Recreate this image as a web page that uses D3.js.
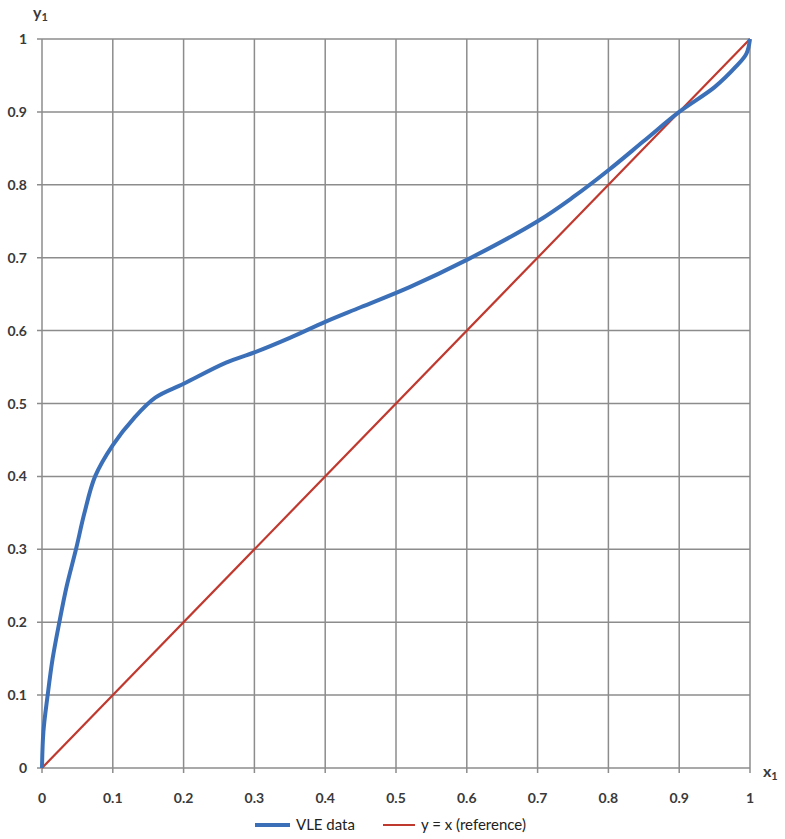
<!DOCTYPE html>
<html>
<head>
<meta charset="utf-8">
<script src="https://cdn.jsdelivr.net/npm/d3@7"></script>
<style>
  body { margin: 0; background: #fff; }
  text { font-family: Lato, "Open Sans", sans-serif; }
</style>
</head>
<body>
<div id="chart"></div>
<script>
// VLE data
const vleX = [0, 0.002, 0.008, 0.015, 0.0245, 0.035, 0.048, 0.06, 0.075, 0.1, 0.13, 0.16, 0.2, 0.26, 0.3, 0.35, 0.4, 0.45, 0.52, 0.6, 0.7, 0.75, 0.8, 0.85, 0.9, 0.95, 0.98, 0.995, 1];
const vleY = [0, 0.05, 0.1, 0.15, 0.2, 0.25, 0.3, 0.35, 0.4, 0.443, 0.48, 0.508, 0.527, 0.556, 0.57, 0.59, 0.612, 0.632, 0.66, 0.697, 0.75, 0.783, 0.82, 0.86, 0.9, 0.934, 0.962, 0.98, 1];
const refX = [0, 1];
const refY = [0, 1];
const ticks = [0, 0.1, 0.2, 0.3, 0.4, 0.5, 0.6, 0.7, 0.8, 0.9, 1];
const legendNames = ["VLE data", "y = x (reference)"];

const width = 785, height = 839;
const plot = {left: 42, right: 750, top: 39, bottom: 768};

const svg = d3.select("#chart").append("svg")
    .attr("width", width)
    .attr("height", height);

const x = d3.scaleLinear().domain([0, 1]).range([plot.left, plot.right]);
const y = d3.scaleLinear().domain([0, 1]).range([plot.bottom, plot.top]);

//grid
svg.append("g").selectAll("line").data(ticks).join("line")
    .attr("x1", d => x(d)).attr("x2", d => x(d))
    .attr("y1", plot.top).attr("y2", plot.bottom + 5)
    .attr("stroke", "#8c8c8c").attr("stroke-width", 1.5);
svg.append("g").selectAll("line").data(ticks).join("line")
    .attr("x1", plot.left - 5).attr("x2", plot.right)
    .attr("y1", d => y(d)).attr("y2", d => y(d))
    .attr("stroke", "#8c8c8c").attr("stroke-width", 1.5);

//tick labels
const fmt = d => d === 0 ? "0" : d === 1 ? "1" : d3.format(".1f")(d);
svg.append("g").selectAll("text").data(ticks).join("text")
    .attr("x", d => x(d)).attr("y", plot.bottom + 35)
    .attr("text-anchor", "middle")
    .attr("font-size", 14).attr("font-weight", 700).attr("fill", "#3a3a3a")
    .text(fmt);
svg.append("g").selectAll("text").data(ticks).join("text")
    .attr("x", 27).attr("y", d => y(d) + 5)
    .attr("text-anchor", "end")
    .attr("font-size", 14).attr("font-weight", 700).attr("fill", "#3a3a3a")
    .text(fmt);

//axis names
svg.append("text").attr("x", 33).attr("y", 18)
    .attr("font-size", 16).attr("font-weight", 700).attr("fill", "#3a3a3a")
    .html('y<tspan font-size="11" dy="3">1</tspan>');
svg.append("text").attr("x", 763).attr("y", 777)
    .attr("font-size", 16).attr("font-weight", 700).attr("fill", "#3a3a3a")
    .html('x<tspan font-size="11" dy="3">1</tspan>');

//lines
const line = d3.line().x(d => x(d[0])).y(d => y(d[1]));
svg.append("path")
    .attr("d", line(refX.map((v, i) => [v, refY[i]])))
    .attr("fill", "none").attr("stroke", "#c0392f").attr("stroke-width", 2.2);
svg.append("path")
    .attr("d", line.curve(d3.curveCatmullRom)(vleX.map((v, i) => [v, vleY[i]])))
    .attr("fill", "none").attr("stroke", "#3b70b8").attr("stroke-width", 4)
    .attr("stroke-linejoin", "round");

//legend
const legendColors = ["#3b70b8", "#c0392f"];
const legendX = [255, 383];
const lg = svg.append("g").selectAll("g").data(legendNames).join("g")
    .attr("transform", (d, i) => `translate(${legendX[i]},825)`);
lg.append("line").attr("x1", 0).attr("x2", (d, i) => i === 0 ? 35 : 32)
    .attr("stroke", (d, i) => legendColors[i])
    .attr("stroke-width", (d, i) => i === 0 ? 4 : 2);
lg.append("text").attr("x", (d, i) => i === 0 ? 41 : 38).attr("y", 5)
    .attr("font-size", 15).attr("fill", "#222")
    .text(d => d);
</script>
</body>
</html>
